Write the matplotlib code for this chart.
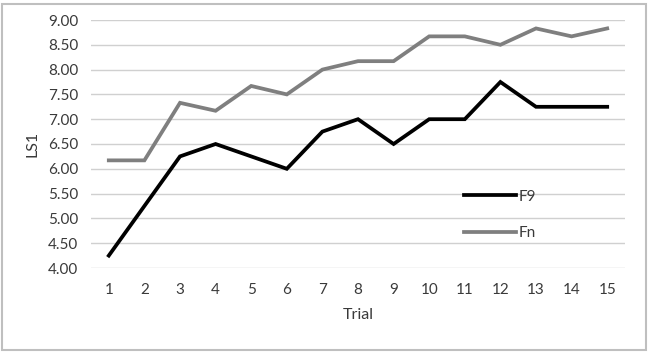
import matplotlib
matplotlib.use("Agg")
import matplotlib.pyplot as plt
from matplotlib.patches import Rectangle

trials = list(range(1, 16))
f9 = [4.25, 5.25, 6.25, 6.5, 6.25, 6.0, 6.75, 7.0, 6.5, 7.0, 7.0, 7.75, 7.25, 7.25, 7.25]
fn = [6.17, 6.17, 7.33, 7.17, 7.67, 7.5, 8.0, 8.17, 8.17, 8.67, 8.67, 8.5, 8.83, 8.67, 8.83]
yticks = [4.0, 4.5, 5.0, 5.5, 6.0, 6.5, 7.0, 7.5, 8.0, 8.5, 9.0]

plt.rcParams['font.family'] = ['Lato', 'DejaVu Sans']
fig = plt.figure(figsize=(6.49, 3.52), dpi=100)
ax = fig.add_axes([91/649, 1-268/352, (625-91)/649, (268-20)/352])

ax.plot(trials, f9, color='black', lw=2.7, label='F9', solid_joinstyle='miter', zorder=3)
ax.plot(trials, fn, color='#7f7f7f', lw=2.7, label='Fn', solid_joinstyle='miter', zorder=3)

ax.set_xlim(0.5, 15.5)
ax.set_ylim(4, 9)
ax.set_yticks(yticks)
ax.set_yticklabels([f"{v:.2f}" for v in yticks], fontsize=11, color='#3a3a3a')
ax.set_xticks(trials)
ax.set_xticklabels([str(t) for t in trials], fontsize=11, color='#3a3a3a')
ax.tick_params(length=0)
ax.tick_params(axis='x', pad=11)
ax.tick_params(axis='y', pad=9)
ax.grid(axis='y', color='#d0d0d0', lw=1)
ax.set_axisbelow(True)
for s in ax.spines.values():
    s.set_visible(False)
ax.set_xlabel('Trial', fontsize=11.5, color='#3a3a3a', labelpad=8)
ax.set_ylabel('LS1', fontsize=11.5, color='#3a3a3a', labelpad=6)

leg = ax.legend(loc='upper left', bbox_to_anchor=(450/649, 1-176/352), bbox_transform=fig.transFigure,
                frameon=False, handlelength=3.4, handletextpad=0.2, labelspacing=1.45, fontsize=11)
for t in leg.get_texts():
    t.set_color('#3a3a3a')

fig.patches.append(Rectangle((2/649, 2/352), 644/649, 346/352, transform=fig.transFigure,
                             fill=False, edgecolor='#bfbfbf', lw=1.5))
fig.savefig('out.png', dpi=100)
